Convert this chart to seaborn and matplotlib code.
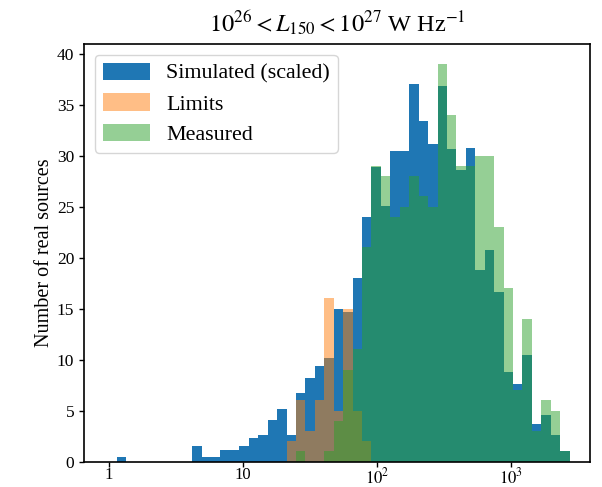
import numpy as np
import matplotlib
matplotlib.use("Agg")
import matplotlib.pyplot as plt
import matplotlib.ticker as mticker
import seaborn as sns

# Logarithmic bin layout (log10 units): first edge, width, count
log_edge_start = 0.057
log_bin_width = 0.07045
n_bins = 48

# Counts per bin, indexed from the first bin
simulated = [0.43, 0, 0, 0, 0, 0, 0, 0, 1.5, 0.43,
             0.43, 1.1, 1.1, 1.5, 2.36, 2.6, 4.1, 5.2, 2.6, 6.75,
             8.25, 9.35, 10.2, 15.0, 14.7, 18.0, 24.0, 28.9, 25.1, 30.5,
             30.5, 37.0, 33.4, 31.1, 36.8, 30.7, 28.6, 30.8, 18.8, 20.8,
             16.6, 8.8, 7.6, 10.5, 3.65, 4.6, 2.6, 1.05]
limits = [0, 0, 0, 0, 0, 0, 0, 0, 0, 0,
          0, 0, 0, 0, 0, 0, 0, 0, 2, 6,
          3, 6, 16, 5, 15, 5, 2, 0, 0, 0,
          0, 0, 0, 0, 0, 0, 0, 0, 0, 0,
          0, 0, 0, 0, 0, 0, 0, 0]
measured = [0, 0, 0, 0, 0, 0, 0, 0, 0, 0,
            0, 0, 0, 0, 0, 0, 0, 0, 0, 1,
            0, 0, 1, 4, 9, 11, 21, 29, 28, 24,
            25, 28, 26, 25, 39, 34, 29, 29, 30, 30,
            23, 17, 7, 14, 3, 6, 5, 1]

series_labels = ["Simulated (scaled)", "Limits", "Measured"]
x_tick_values = [1, 10, 100, 1000]
x_tick_labels = ["1", "10", "$10^2$", "$10^3$"]
y_ticks = [0, 5, 10, 15, 20, 25, 30, 35, 40]

plt.rcParams["font.family"] = "serif"
plt.rcParams["font.serif"] = ["Liberation Serif", "DejaVu Serif"]
plt.rcParams["mathtext.fontset"] = "stix"

log_edges = log_edge_start + log_bin_width * np.arange(n_bins + 1)
centers = 10 ** (0.5 * (log_edges[:-1] + log_edges[1:]))

fig = plt.figure(figsize=(6.02, 4.87), dpi=100)
ax = fig.add_axes([0.1395, 0.0520, 0.8405, 0.8577])

styles = [("#1f77b4", 1.0), ("#ff7f0e", 0.5), ("#2ca02c", 0.5)]
for values, label, (color, alpha) in zip([simulated, limits, measured],
                                          series_labels, styles):
    sns.histplot(x=centers, weights=values, bins=list(log_edges),
                 log_scale=True, color=color, alpha=alpha, linewidth=0,
                 element="bars", label=label, ax=ax)

ax.set_xlim(10 ** -0.1866, 10 ** 3.590)
ax.set_ylim(0, 40.95)
ax.xaxis.set_major_locator(mticker.FixedLocator(x_tick_values))
ax.xaxis.set_major_formatter(mticker.FixedFormatter(x_tick_labels))
ax.xaxis.set_minor_locator(mticker.NullLocator())
ax.set_yticks(y_ticks)
ax.tick_params(labelsize=12.5, direction="out", length=3.5, width=1)
ax.tick_params(axis="x", pad=0.5, labelsize=12)
for sp in ax.spines.values():
    sp.set_linewidth(1.2)

ax.set_xlabel("")
ax.set_ylabel("Number of real sources", fontsize=14.5, labelpad=2)
ax.set_title(r"$10^{26} < L_{150} < 10^{27}$ W Hz$^{-1}$", fontsize=17.5,
             pad=9)
ax.legend(loc="upper left", fontsize=15.8, handlelength=2.15,
          handleheight=0.85, borderpad=0.35, labelspacing=0.42,
          handletextpad=0.75)

fig.savefig("out.png", dpi=100)
